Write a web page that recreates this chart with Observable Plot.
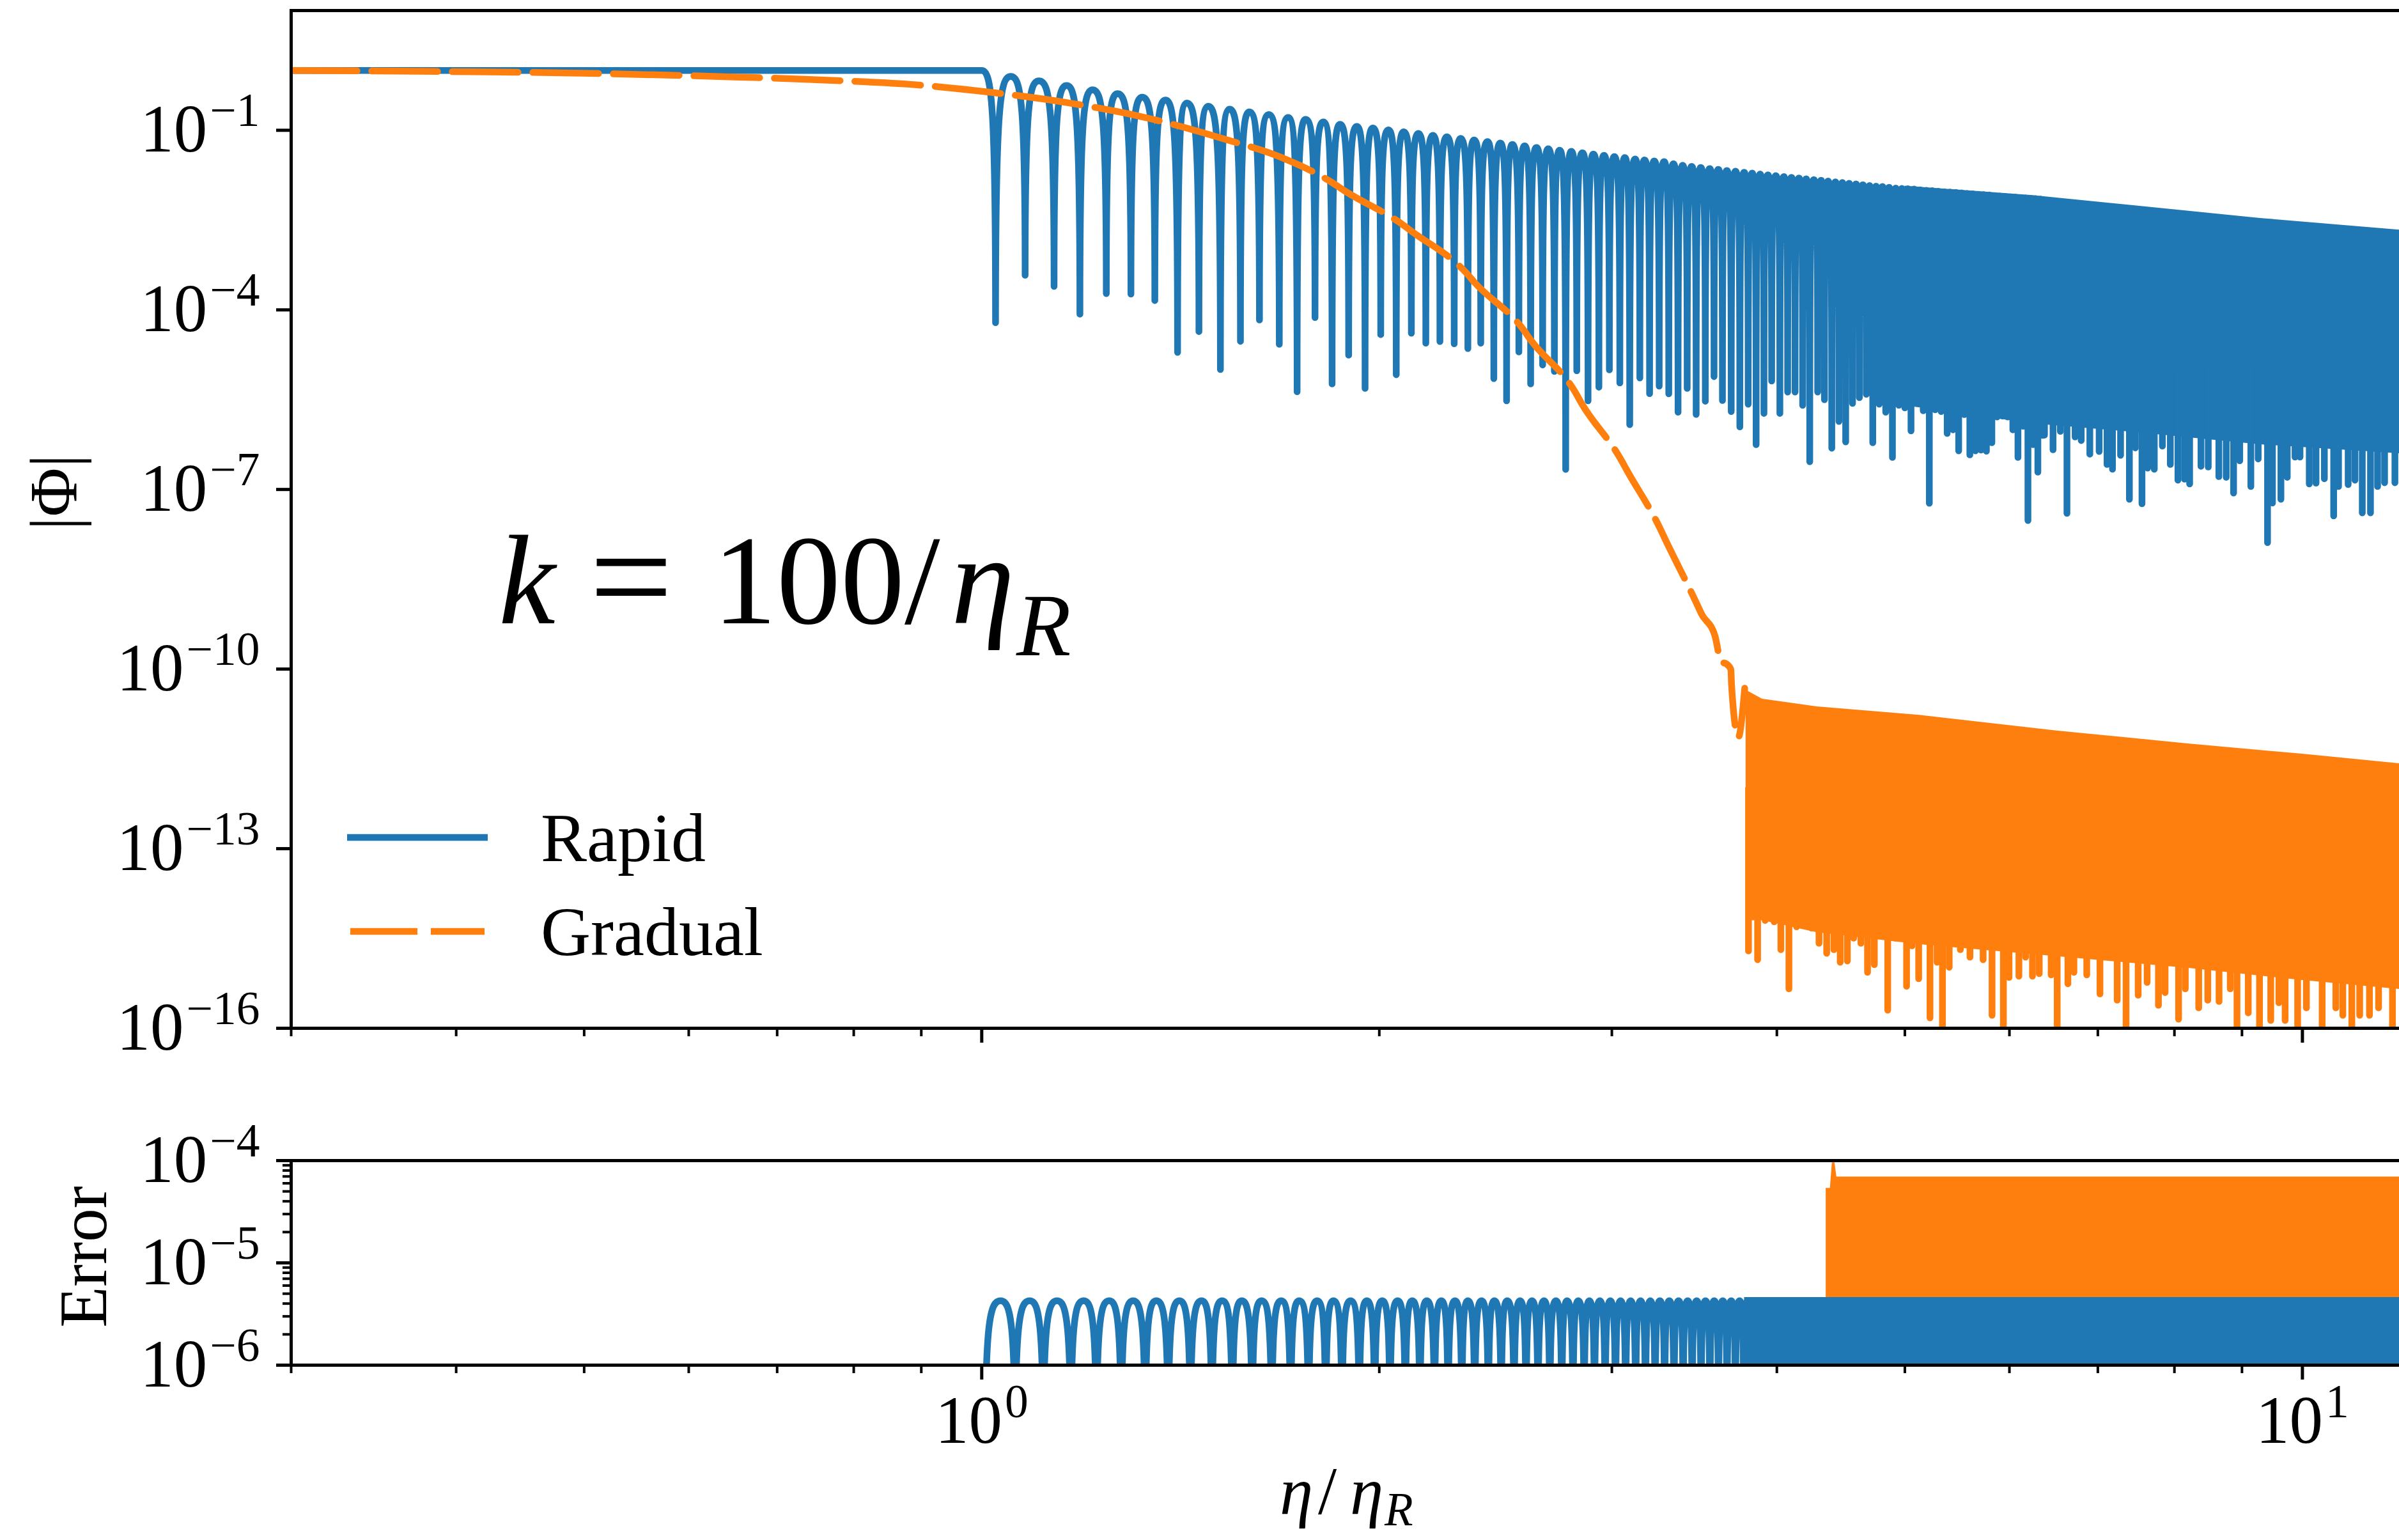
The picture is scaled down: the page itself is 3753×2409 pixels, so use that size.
<!DOCTYPE html>
<html><head><meta charset="utf-8">
<script src="https://cdn.jsdelivr.net/npm/d3@7"></script>
<script src="https://cdn.jsdelivr.net/npm/@observablehq/plot@0.6"></script>
<style>
html,body{margin:0;padding:0;background:#fff;}
#root{position:relative;width:3753px;height:2409px;overflow:hidden;background:#fff;}
#root svg{position:absolute;left:0;}
</style></head><body><div id="root"></div>
<script>
// ---------------- DATA (eta/eta_R, log10 value) ----------------
const xTicksMajor = [1, 10];
const xTicksMinor = [0.3, 0.4, 0.5, 0.6, 0.7, 0.8, 0.9, 2, 3, 4, 5, 6, 7, 8, 9];
const yTicksTop = [1e-16, 1e-13, 1e-10, 1e-7, 1e-4, 1e-1];
const yTicksBottom = [1e-6, 1e-5, 1e-4];
const yTicksBottomMinor = [2e-6, 3e-6, 4e-6, 5e-6, 6e-6, 7e-6, 8e-6, 9e-6, 2e-5, 3e-5, 4e-5, 5e-5, 6e-5, 7e-5, 8e-5, 9e-5];

// Rapid |Phi|: flat part, then oscillation dips (bottoms) and arch tops
const rapidFlat = [[0.3, 0.0], [1.0, 0.0]];
const rapidDips = [
 [1.0244,-4.214],[1.0786,-3.422],[1.1344,-3.607],[1.1867,-4.071],[1.2426,-3.728],[1.2971,-3.737],[1.3523,-3.844],[1.4070,-4.710],[1.4604,-4.362],[1.5161,-4.997],[1.5700,-4.525],[1.6229,-4.168],[1.680,-4.575],
 [1.733,-5.368],[1.788,-4.129],[1.842,-5.236],[1.896,-4.756],[1.951,-5.312],[2.005,-4.413],[2.060,-5.083],[2.115,-4.391],[2.169,-4.555],[2.223,-4.528],[2.279,-4.566],[2.334,-4.647],[2.387,-4.555],[2.442,-5.148],[2.497,-5.519],[2.551,-4.702],[2.604,-5.236],[2.659,-4.920],[2.714,-5.029],[2.768,-6.665],[2.822,-5.018],[2.878,-5.519],[2.933,-5.291],[2.987,-5.002],[3.042,-5.220],[3.095,-5.918],[3.150,-5.138],[3.204,-5.400],[3.258,-5.274],
 [3.313,-5.403],[3.367,-5.709],[3.421,-5.311],[3.475,-5.747],[3.531,-5.526],[3.585,-5.115],[3.638,-5.514],[3.694,-5.698],[3.750,-5.955],[3.805,-5.575],[3.858,-6.250],[3.911,-5.729],[3.964,-5.189],[4.021,-5.729],[4.076,-5.373],[4.129,-5.373],[4.184,-5.593],[4.236,-6.537],[4.295,-5.373],[4.346,-5.501],[4.402,-6.311],[4.457,-5.863],[4.510,-6.206],[4.564,-5.563],[4.619,-5.465],[4.675,-5.409],[4.728,-6.219],[4.781,-5.575],[4.836,-5.709],[4.893,-6.465],[4.948,-5.593],[5.000,-5.637],[5.054,-6.022],[5.108,-5.544],[5.163,-5.686],[5.218,-7.231],[5.272,-5.668],[5.327,-5.698],[5.383,-6.065],[5.438,-6.004],[5.492,-6.354],[5.546,-5.748],[5.600,-6.421],[5.655,-6.354],[5.710,-6.342],[5.764,-6.360],[5.819,-6.219],[5.873,-5.790],[5.929,-5.772],[5.982,-5.790],[6.036,-6.004],[6.090,-6.465],[6.145,-5.943],[6.197,-7.519],[6.253,-6.250],[6.305,-6.709],[6.362,-6.096]
];
const rapidPeaks = [
 [1.0518,-0.100],[1.1049,-0.174],[1.1596,-0.253],[1.2131,-0.323],[1.2672,-0.388],[1.3230,-0.448],[1.3776,-0.494],[1.4301,-0.545],[1.4845,-0.600],[1.5407,-0.647],[1.5944,-0.693],[1.6495,-0.739],
 [1.706,-0.786],[1.759,-0.818],[1.814,-0.862],[1.868,-0.900],[1.923,-0.935],[1.978,-0.961],[2.032,-0.994],[2.087,-1.026],[2.141,-1.054],[2.196,-1.086],[2.250,-1.108],[2.305,-1.135],[2.360,-1.162],[2.415,-1.189],[2.470,-1.212],[2.522,-1.238],[2.577,-1.261],[2.630,-1.287],[2.685,-1.310],[2.739,-1.332],[2.795,-1.353],[2.850,-1.375],[2.905,-1.397],[2.959,-1.419],[3.013,-1.440],[3.069,-1.456],[3.124,-1.479],[3.176,-1.495],[3.230,-1.511],
 [3.286,-1.524],[3.340,-1.561],[3.394,-1.585],[3.448,-1.604],[3.503,-1.622],[3.558,-1.640],[3.612,-1.653],[3.666,-1.671],[3.722,-1.683],[3.778,-1.702],[3.832,-1.714],[3.885,-1.732],[3.938,-1.745],[3.993,-1.757],[4.049,-1.775],[4.103,-1.787],[4.157,-1.799],[4.210,-1.812],[4.266,-1.824],[4.321,-1.836],[4.374,-1.848],[4.430,-1.861],[4.484,-1.873],[4.537,-1.885],[4.592,-1.897],[4.647,-1.910],[4.702,-1.922],[4.755,-1.934],[4.809,-1.940],[4.865,-1.953],[4.921,-1.965],[4.974,-1.971],[5.027,-1.977],[5.081,-1.983],[5.136,-1.996],[5.191,-2.002],[5.245,-2.008],[5.300,-2.020],[5.355,-2.026],[5.411,-2.033],[5.465,-2.039],[5.519,-2.045],[5.573,-2.057],[5.628,-2.063],[5.683,-2.069],[5.737,-2.075],[5.792,-2.082],[5.846,-2.094],[5.901,-2.100],[5.956,-2.106],[6.009,-2.112],[6.063,-2.119],[6.118,-2.125],[6.171,-2.131],[6.225,-2.137],[6.279,-2.143],[6.334,-2.150]
];
// dense part of Rapid: [eta, top edge, solid floor]
const rapidBandRows = [[5.0,-1.93,-5.6],[6.25,-2.09,-5.9],[7.51,-2.265,-6.05],[9.29,-2.47,-6.25],[11.86,-2.667,-6.4],[12,-2.68,-6.4]];
// spike tips sticking out below the dense part
const rapidTips = [
 [6.378,-6.096],[6.474,-6.342],[6.557,-6.035],[6.633,-7.403],[6.728,-6.127],[6.800,-6.188],[6.903,-6.415],[7.016,-6.372],[7.113,-6.587],[7.181,-6.667],[7.283,-6.434],[7.396,-7.170],[7.473,-6.311],[7.560,-7.244],[7.635,-6.648],[7.724,-6.667],[7.834,-6.280],[7.943,-6.587],[8.049,-6.850],[8.142,-6.832],[8.215,-6.912],[8.379,-6.618],[8.486,-6.631],[8.644,-6.790],[8.756,-6.802],[8.869,-7.065],[8.965,-6.526],[9.140,-6.955],[9.258,-6.495],[9.410,-7.893],[9.491,-7.231],[9.632,-7.170],[9.739,-6.802],[9.872,-6.464],[9.958,-6.464],[10.12,-6.912],[10.24,-6.900],[10.39,-6.826],[10.56,-7.446],[10.65,-6.955],[10.83,-6.924],[10.96,-6.850],[11.10,-7.397],[11.26,-7.397],[11.40,-6.955],[11.54,-6.893],[11.75,-6.893]
];

// Gradual |Phi|: smooth part then noise
const gradualLine = [
 [0.3,0.0],[0.375,-0.015],[0.498,-0.047],[0.656,-0.112],[0.765,-0.163],[0.882,-0.232],[1.012,-0.362],[1.167,-0.547],[1.339,-0.802],[1.528,-1.15],[1.683,-1.447],[1.840,-1.867],[1.880,-2.003],[2.078,-2.559],[2.118,-2.694],[2.326,-3.376],[2.362,-3.545],[2.569,-4.32],[2.606,-4.512],[2.81,-5.35],[2.848,-5.575],[3.043,-6.473],[3.082,-6.692],[3.258,-7.62],[3.298,-7.866],[3.471,-8.863],[3.508,-9.081],[3.591,-9.447],[3.630,-9.883],[3.661,-9.910],[3.692,-10.007],[3.696,-10.26],[3.740,-11.14],[3.782,-10.32]
];
const gradualBandRows = [[3.79,-10.35,-14.2],[3.90,-10.50,-14.2],[4.29,-10.63,-14.4],[5.13,-10.77,-14.6],[6.50,-11.03,-14.8],[8.22,-11.25,-15.0],[10.0,-11.42,-15.2],[11.86,-11.58,-15.35],[12,-11.59,-15.4]];
const gradualTips = [
 [3.807,-14.713],[3.868,-14.860],[3.919,-14.205],[3.981,-14.227],[4.028,-14.691],[4.085,-15.346],[4.140,-14.311],[4.189,-14.290],[4.248,-14.332],[4.305,-14.585],[4.363,-14.754],[4.418,-14.691],[4.467,-14.903],[4.523,-14.881],[4.573,-14.501],[4.631,-14.585],[4.685,-15.072],[4.741,-14.944],[4.853,-15.705],[4.917,-14.501],[5.015,-15.304],[5.063,-14.628],[5.122,-15.177],[5.224,-15.832],[5.289,-14.903],[5.339,-16.4],[5.402,-14.987],[5.508,-14.691],[5.601,-14.818],[5.731,-14.860],[5.821,-15.790],[5.937,-16.4],[5.996,-15.156],[6.100,-15.135],[6.171,-14.818],[6.246,-15.135],[6.320,-15.093],[6.453,-15.114],[6.521,-16.4],[6.644,-15.262],[6.714,-15.072],[6.866,-15.114],[7.026,-15.431],[7.240,-15.536],[7.353,-16.4],[7.510,-15.452],[7.628,-15.240],[7.780,-15.621],[7.871,-15.409],[8.058,-15.854],[8.153,-15.346],[8.346,-15.663],[8.479,-15.536],[8.647,-15.558],[8.818,-15.346],[8.922,-16.4],[9.099,-15.748],[9.279,-16.4],[9.463,-15.874],[9.598,-15.579],[9.703,-15.874],[9.917,-16.4],[10.07,-15.663],[10.35,-16.4],[10.60,-15.663],[10.73,-15.790],[10.90,-16.4],[11.05,-15.790],[11.24,-15.790],[11.42,-15.663],[11.70,-16.4]
];

// Error panel
const errRapidPeakEta = [1.0334,1.0871,1.1402,1.1944,1.2489,1.3021,1.3558,1.4115,1.4670,1.5205,1.5736,1.6288,1.6856,1.7392,1.7946,1.8462,1.9022,1.9572,2.0103,2.0650,2.1181,2.1726,2.2285,2.2822,2.3339,2.3902,2.4443,2.4997,2.5563,2.6101,2.6654,2.7214,2.7746,2.8292,2.8846,2.938,2.992,3.046,3.100,3.154,3.208,3.262,3.316,3.370,3.424,3.478,3.532,3.586,3.640,3.694,3.748,3.802];
const errRapidDipEta = [1.0059,1.0599,1.1133,1.1680,1.2214,1.2754,1.3298,1.3842,1.4388,1.4937,1.5481,1.6025,1.6581,1.7136,1.7681,1.8217,1.8741,1.9316,1.9839,2.0376,2.0930,2.1468,2.2020,2.2550,2.3096,2.3620,2.4189,2.4737,2.5297,2.5830,2.6376,2.6924,2.7493,2.8035,2.8587,2.9103,2.965,3.019,3.073,3.127,3.181,3.235,3.289,3.343,3.397,3.451,3.505,3.559,3.613,3.667,3.721,3.775];
const errRapidPeakLog = -5.37;   // all arch tops at ~4.3e-6
const errRapidDipLog = -7;       // dips fall below the 1e-6 axis
const errRapidBandRows = [[3.78,-5.338,-6.3],[12,-5.338,-6.3]];
const errGradualBandRows = [[4.358,-4.27,-5.36],[4.39,-4.27,-5.36],[4.405,-4.02,-5.36],[4.425,-4.02,-5.36],[4.44,-4.16,-5.36],[12,-4.16,-5.36]];

// ---------------- rendering ----------------
const BLUE = "#1f77b4", ORANGE = "#ff7f0e";
const W = 3770, ML = 455, MR = 5, LW = 10.5;
const xScale = {type: "log", domain: [0.3, 12]};
const P = ([eta, lg]) => ({eta, v: 10 ** lg});
const B = ([eta, hi, lo]) => ({eta, hi: 10 ** hi, lo: 10 ** lo});
const supFmt = d => { const e = Math.round(Math.log10(d)); return "10|" + (e < 0 ? "\u2212" + (-e) : e); };
const blank = () => "";

// arch + spike shaped curve: horizontal tangent at tops, vertical at dips
function spikeCurve(context) {
  let pts;
  return {
    areaStart() {}, areaEnd() {},
    lineStart() { pts = []; },
    point(x, y) { pts.push([+x, +y]); },
    lineEnd() {
      if (!pts.length) return;
      context.moveTo(pts[0][0], pts[0][1]);
      for (let i = 1; i < pts.length; ++i) {
        const [x0, y0] = pts[i - 1], [x1, y1] = pts[i];
        const dy = y1 - y0;
        if (Math.abs(dy) < 0.5) { context.lineTo(x1, y1); continue; }
        if (dy > 0) {
          const k = Math.min(0.12 * dy, 55);
          context.bezierCurveTo(x0 + 0.7 * (x1 - x0), y0, x1, y0 + k, x1, y1);
        } else {
          const k = Math.min(-0.12 * dy, 55);
          context.bezierCurveTo(x0, y1 + k, x1 - 0.7 * (x1 - x0), y1, x1, y1);
        }
      }
    }
  };
}

const baseStyle = {fontFamily: "'Liberation Serif', serif", fontSize: "105px", color: "black", background: "transparent", overflow: "visible", maxWidth: "none"};

const rapidSeq = [...rapidFlat, ...rapidDips, ...rapidPeaks].map(P).sort((a, b) => a.eta - b.eta);

const topPlot = Plot.plot({
  width: W, height: 1700, marginLeft: ML, marginRight: MR, marginTop: 16, marginBottom: 92,
  x: xScale, y: {type: "log", domain: [1e-16, 10]},
  style: baseStyle,
  marks: [
    Plot.areaY(rapidBandRows.map(B), {x: "eta", y1: "lo", y2: "hi", fill: BLUE, clip: true}),
    Plot.ruleX(rapidTips.map(P), {x: "eta", y1: "v", y2: () => 1e-5, stroke: BLUE, strokeWidth: LW, strokeLinecap: "round", clip: true}),
    Plot.line(rapidSeq, {x: "eta", y: "v", stroke: BLUE, strokeWidth: LW, curve: spikeCurve, strokeLinejoin: "round", clip: true}),
    Plot.areaY(gradualBandRows.map(B), {x: "eta", y1: "lo", y2: "hi", fill: ORANGE, clip: true}),
    Plot.ruleX(gradualTips.map(P), {x: "eta", y1: "v", y2: () => 1e-12, stroke: ORANGE, strokeWidth: LW, strokeLinecap: "round", clip: true}),
    Plot.line(gradualLine.map(P), {x: "eta", y: "v", stroke: ORANGE, strokeWidth: LW, strokeDasharray: "103,23", curve: "monotone-x", clip: true}),
    Plot.axisY({ticks: yTicksTop, tickSize: 23, tickPadding: 26, tickFormat: supFmt, strokeWidth: 5, label: null}),
    Plot.axisX({ticks: xTicksMajor, tickSize: 23, tickFormat: blank, strokeWidth: 5, label: null}),
    Plot.axisX({ticks: xTicksMinor, tickSize: 13, tickFormat: blank, strokeWidth: 4, label: null}),
    Plot.frame({stroke: "black", strokeWidth: 5})
  ]
});

const errSeq = [
  ...errRapidPeakEta.map(e => ({eta: e, v: 10 ** errRapidPeakLog})),
  ...errRapidDipEta.map(e => ({eta: e, v: 10 ** errRapidDipLog}))
].sort((a, b) => a.eta - b.eta);

const bottomPlot = Plot.plot({
  width: W, height: 709, marginLeft: ML, marginRight: MR, marginTop: 115, marginBottom: 274,
  x: xScale, y: {type: "log", domain: [1e-6, 1e-4]},
  style: baseStyle,
  marks: [
    Plot.areaY(errGradualBandRows.map(B), {x: "eta", y1: "lo", y2: "hi", fill: ORANGE, clip: true}),
    Plot.areaY(errRapidBandRows.map(B), {x: "eta", y1: "lo", y2: "hi", fill: BLUE, clip: true}),
    Plot.line(errSeq, {x: "eta", y: "v", stroke: BLUE, strokeWidth: LW, curve: spikeCurve, strokeLinejoin: "round", clip: true}),
    Plot.axisY({ticks: yTicksBottom, tickSize: 23, tickPadding: 26, tickFormat: supFmt, strokeWidth: 5, label: null}),
    Plot.axisY({ticks: yTicksBottomMinor, tickSize: 13, tickFormat: blank, strokeWidth: 4, label: null}),
    Plot.axisX({ticks: xTicksMajor, tickSize: 23, tickPadding: 24, tickFormat: supFmt, strokeWidth: 5, label: null}),
    Plot.axisX({ticks: xTicksMinor, tickSize: 13, tickFormat: blank, strokeWidth: 4, label: null}),
    Plot.frame({stroke: "black", strokeWidth: 5})
  ]
});

function supify(svg) {
  const ns = "http://www.w3.org/2000/svg";
  svg.querySelectorAll("text").forEach(t => {
    const s = t.textContent;
    if (!s.includes("|")) return;
    const [base, exp] = s.split("|");
    t.textContent = "";
    const a = document.createElementNS(ns, "tspan"); a.textContent = base; t.appendChild(a);
    const b = document.createElementNS(ns, "tspan"); b.textContent = exp;
    b.setAttribute("font-size", "0.7em"); b.setAttribute("dy", "-0.55em"); b.setAttribute("dx", "4");
    t.appendChild(b);
  });
}
supify(topPlot); supify(bottomPlot);

const root = document.getElementById("root");
topPlot.style.top = "0px";
bottomPlot.style.top = "1700px";
root.appendChild(topPlot);
root.appendChild(bottomPlot);

// overlay: axis titles, annotation, legend
const overlay = document.createElementNS("http://www.w3.org/2000/svg", "svg");
overlay.setAttribute("width", 3753); overlay.setAttribute("height", 2409);
overlay.style.top = "0px";
overlay.setAttribute("font-family", "'Liberation Serif', serif");
overlay.innerHTML = `
  <text transform="translate(120,770) rotate(-90)" text-anchor="middle" font-size="105">|Φ|</text>
  <text transform="translate(166,1966) rotate(-90)" text-anchor="middle" font-size="105">Error</text>
  <text y="2368" font-size="105"><tspan x="2002" font-style="italic">η</tspan><tspan x="2062">/</tspan><tspan x="2112" font-style="italic">η</tspan><tspan x="2166" dy="18" font-size="73" font-style="italic">R</tspan></text>
  <text y="975" font-size="200"><tspan x="780" font-style="italic">k</tspan></text>
  <text x="922" y="980" font-size="232">=</text>
  <text y="975" font-size="200"><tspan x="1115">100/</tspan><tspan x="1488" font-style="italic">η</tspan><tspan x="1590" dy="50" font-size="140" font-style="italic">R</tspan></text>
  <line x1="543" x2="763" y1="1310" y2="1310" stroke="${BLUE}" stroke-width="10.5"/>
  <line x1="548" x2="758" y1="1457" y2="1457" stroke="${ORANGE}" stroke-width="10.5" stroke-dasharray="105,21"/>
  <text x="846" y="1347" font-size="108">Rapid</text>
  <text x="846" y="1494" font-size="108">Gradual</text>
`;
root.appendChild(overlay);
</script></body></html>
